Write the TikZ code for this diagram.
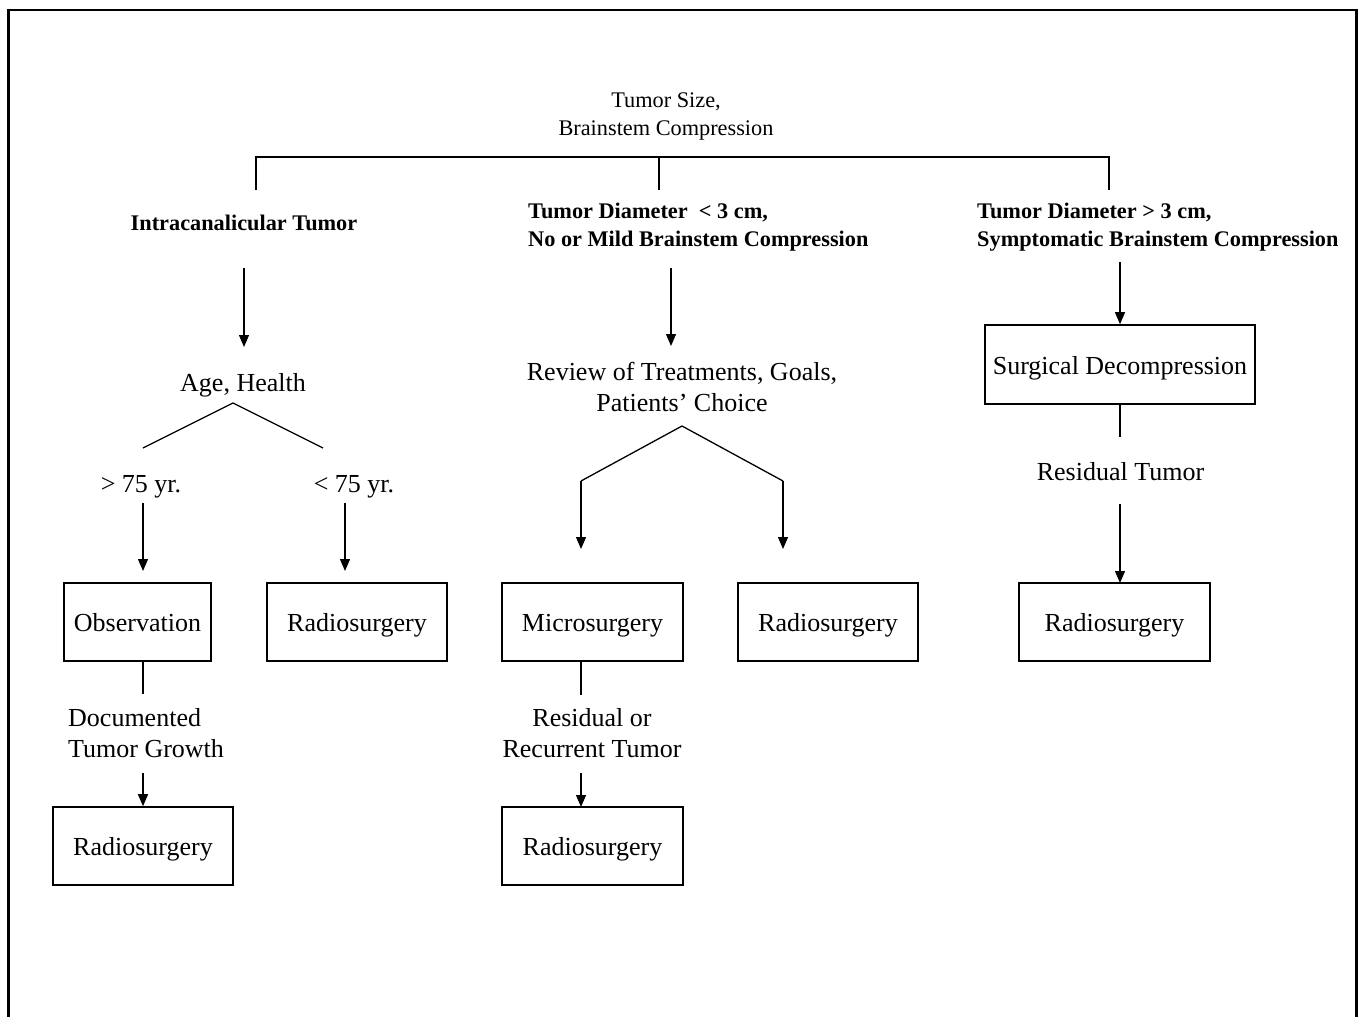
\documentclass[tikz,border=0pt]{standalone}
\usepackage{fontspec}
\setmainfont{Liberation Serif}
\usetikzlibrary{arrows.meta}
\begin{document}
\begin{tikzpicture}[x=1pt,y=-1pt,
  txt/.style={font=\fontsize{26}{31}\selectfont, inner sep=0pt, align=center, anchor=base},
  toptxt/.style={font=\fontsize{22.3}{28}\selectfont, inner sep=0pt, align=center, anchor=base},
  bhead/.style={font=\fontsize{22.3}{27.5}\selectfont\bfseries, inner sep=0pt, align=left, anchor=base west},
  box/.style={draw, line width=1.6pt, font=\fontsize{26}{31}\selectfont, inner sep=0pt,
    text height=19pt, text depth=0pt, minimum height=78pt},
  conn/.style={line width=1.3pt},
  arr/.style={line width=1.3pt, -{Triangle[width=10pt,length=12pt]}},
  frame/.style={line width=2.5pt}
]
\useasboundingbox (0,0) rectangle (1358,1017);
% outer frame (bottom edge not visible)
\draw[frame] (8.5,1017) -- (8.5,10) -- (1356.5,10) -- (1356.5,1017);

% root (multi-line nodes: base = baseline of last line)
\node[toptxt] (root) at (666,135) {Tumor Size,\\Brainstem Compression};
\coordinate (bl) at (256,157);
\coordinate (bm) at (659,157);
\coordinate (br) at (1109,157);
\coordinate (bl2) at (256,190);
\coordinate (bm2) at (659,190);
\coordinate (br2) at (1109,190);
\draw[conn] (bl2) -- (bl) -- (br) -- (br2);
\draw[conn] (bm) -- (bm2);

% ---------- left column
\node[bhead, anchor=base] (intra) at (244,230) {Intracanalicular Tumor};
\coordinate (a1s) at (244,268);
\coordinate (a1e) at (244,347);
\draw[arr] (a1s) -- (a1e);
\node[txt] (age) at (243,391) {Age, Health};
\coordinate (ageapex) at (233,403);
\coordinate (agel) at (143,448);
\coordinate (ager) at (323,448);
\draw[conn] (agel) -- (ageapex) -- (ager);
\node[txt] (gt) at (141,492) {> 75 yr.};
\node[txt] (lt) at (354,492) {< 75 yr.};
\node[box, minimum width=147pt] (obs) at (137.5,622) {Observation};
\node[box, minimum width=180pt] (rad1) at (357,622) {Radiosurgery};
\coordinate (gts) at (143,503);
\coordinate (lts) at (345,503);
\draw[arr] (gts) -- (143,571);
\draw[arr] (lts) -- (345,571);
\coordinate (obsb) at (143,661);
\coordinate (obsl) at (143,694);
\draw[conn] (obsb) -- (obsl);
\node[txt, align=left, anchor=base west] (doc) at (68,757) {Documented\\Tumor Growth};
\node[box, minimum width=180pt] (rad2) at (143,846) {Radiosurgery};
\coordinate (docs) at (143,773);
\draw[arr] (docs) -- (rad2.north);

% ---------- middle column
\node[bhead] (mid) at (528,246) {Tumor Diameter\ \ < 3 cm,\\No or Mild Brainstem Compression};
\coordinate (a2s) at (671,268);
\coordinate (a2e) at (671,346);
\draw[arr] (a2s) -- (a2e);
\node[txt] (review) at (682,411) {Review of Treatments, Goals,\\Patients’ Choice};
\coordinate (rapex) at (682,426);
\coordinate (rl) at (581,481);
\coordinate (rr) at (783,481);
\node[box, minimum width=181pt] (micro) at (592.5,622) {Microsurgery};
\node[box, minimum width=180pt] (rad3) at (828,622) {Radiosurgery};
\draw[conn] (rl) -- (rapex) -- (rr);
\draw[arr] (rl) -- (581,549);
\draw[arr] (rr) -- (783,549);
\coordinate (micb) at (581,661);
\coordinate (micl) at (581,695);
\draw[conn] (micb) -- (micl);
\node[txt] (resid) at (592,757) {Residual or\\Recurrent Tumor};
\node[box, minimum width=181pt] (rad4) at (592.5,846) {Radiosurgery};
\coordinate (ress) at (581,773);
\draw[arr] (ress) -- (581,807);

% ---------- right column
\node[bhead] (right) at (977,246) {Tumor Diameter > 3 cm,\\Symptomatic Brainstem Compression};
\node[box, minimum width=270pt, minimum height=79pt] (surg) at (1120,364.5) {Surgical Decompression};
\coordinate (a3s) at (1120,262);
\draw[arr] (a3s) -- (surg.north);
\coordinate (surgl) at (1120,437);
\draw[conn] (surg.south) -- (surgl);
\node[txt] (restum) at (1120.5,480) {Residual Tumor};
\node[box, minimum width=191pt] (rad5) at (1114.5,622) {Radiosurgery};
\coordinate (a4s) at (1120,504);
\draw[arr] (a4s) -- (1120,583);
\end{tikzpicture}
\end{document}
